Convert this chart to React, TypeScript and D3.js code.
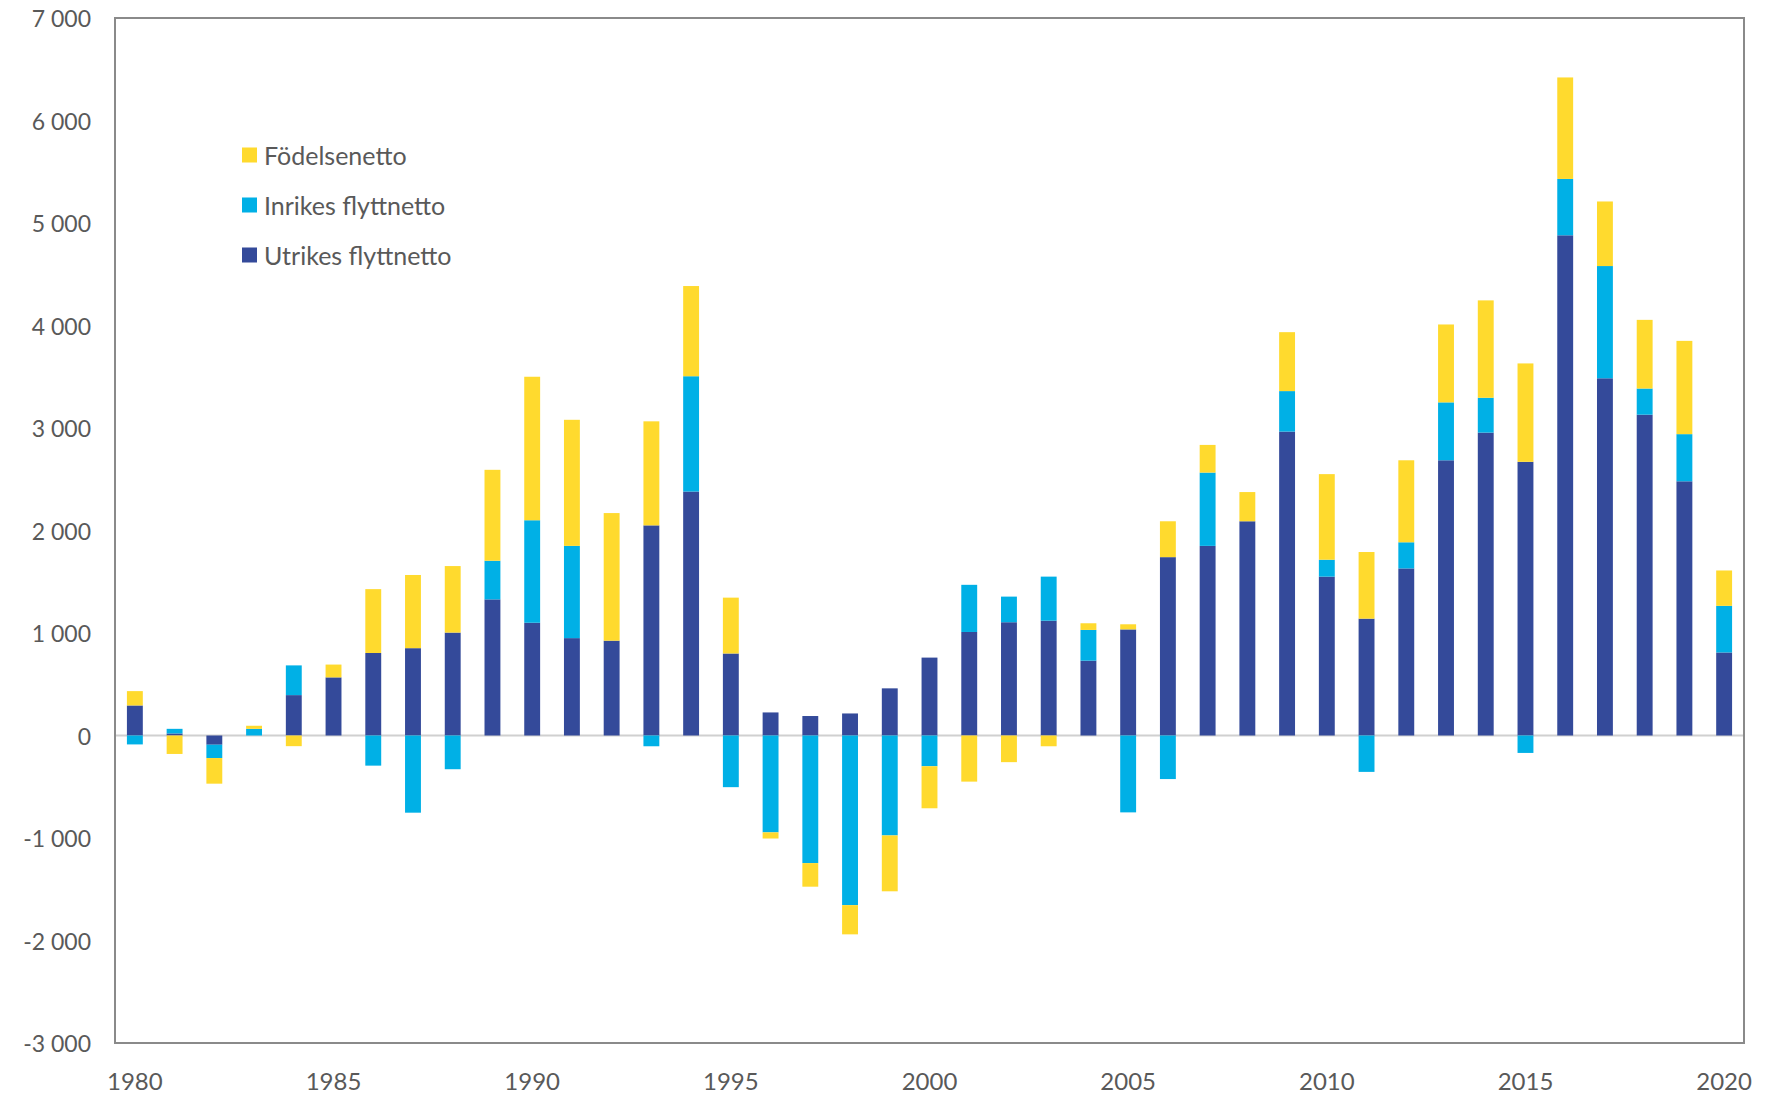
import React from 'react';
import * as d3 from 'd3';

// years on the x axis
const years = d3.range(1980, 2021).map(String);

// series (persons per year)
const utrikes = [
    293, 20, -90, 0, 394, 567, 805, 852, 1004, 1328,
    1100, 950, 925, 2050, 2380, 800, 225, 190, 215, 460,
    760, 1010, 1105, 1120, 730, 1035, 1740, 1850, 2090, 2965,
    1550, 1140, 1630, 2685, 2955, 2670, 4880, 3485, 3130, 2480,
    810
];
const inrikes = [
    -87, 45, -130, 65, 290, 0, -294, -753, -329, 377,
    1000, 900, 0, -105, 1125, -504, -945, -1245, -1655, -975,
    -300, 460, 250, 430, 300, -750, -425, 715, 0, 395,
    165, -355, 255, 565, 340, -170, 550, 1095, 255, 460,
    455
];
const fodelse = [
    140, -180, -250, 30, -104, 125, 623, 714, 649, 887,
    1400, 1230, 1245, 1015, 880, 545, -60, -230, -285, -545,
    -410, -450, -260, -105, 65, 50, 350, 270, 285, 575,
    835, 650, 800, 760, 950, 960, 990, 630, 670, 910,
    345
];

const yTicks = d3.range(-3000, 7001, 1000);
const xLabels = ['1980', '1985', '1990', '1995', '2000', '2005', '2010', '2015', '2020'];

const keys = ['utrikes', 'inrikes', 'fodelse'];
const seriesColors = {
    utrikes: '#344A9A',
    inrikes: '#00B0E6',
    fodelse: '#FFDA2E'
};
const legendItems = [
    { key: 'fodelse', label: 'Födelsenetto' },
    { key: 'inrikes', label: 'Inrikes flyttnetto' },
    { key: 'utrikes', label: 'Utrikes flyttnetto' }
];

const W = 1780, H = 1096;
const plot = { left: 115, right: 1744, top: 18, bottom: 1043 };
const textColor = '#595959';
const font = 'Lato, "Open Sans", sans-serif';

const fmt = d3.formatLocale({
    decimal: ',', thousands: ' ', grouping: [3], currency: ['', ''], minus: '-'
}).format(',');

export default function App() {
    const rows = years.map((y, i) => ({
        year: y, utrikes: utrikes[i], inrikes: inrikes[i], fodelse: fodelse[i]
    }));

    const stacked = d3.stack()
        .keys(keys)
        .offset(d3.stackOffsetDiverging)(rows as any);

    const x = d3.scaleBand()
        .domain(years)
        .range([plot.left, plot.right])
        .paddingInner(0.6)
        .paddingOuter(0.3);

    const y = d3.scaleLinear()
        .domain([-3000, 7000])
        .range([plot.bottom, plot.top]);

    return (
        <div style={{ position: 'absolute', left: 0, top: 0 }}>
            <svg width={W} height={H} style={{ display: 'block', background: '#fff' }}>
                {/* zero line */}
                <line x1={plot.left} x2={plot.right} y1={y(0)} y2={y(0)}
                      stroke="#D0D0D0" strokeWidth={2} />

                {stacked.map(s => (
                    <g key={s.key} fill={seriesColors[s.key]}>
                        {s.map((d: any) => {
                            const y0 = y(d[0]), y1 = y(d[1]);
                            return (
                                <rect key={d.data.year}
                                      x={x(d.data.year)}
                                      width={x.bandwidth()}
                                      y={Math.min(y0, y1)}
                                      height={Math.abs(y0 - y1)} />
                            );
                        })}
                    </g>
                ))}

                {/* frame */}
                <rect x={plot.left} y={plot.top}
                      width={plot.right - plot.left} height={plot.bottom - plot.top}
                      fill="none" stroke="#8A8A8A" strokeWidth={2} />

                {/* y tick labels */}
                {yTicks.map(t => (
                    <text key={t} x={91} y={y(t)} textAnchor="end" dominantBaseline="central"
                          fontFamily={font} fontSize={23} fill={textColor}>
                        {fmt(t)}
                    </text>
                ))}

                {/* x tick labels */}
                {xLabels.map(l => (
                    <text key={l} x={x(l) + x.bandwidth() / 2} y={1080} textAnchor="middle"
                          dominantBaseline="central" fontFamily={font} fontSize={24} fill={textColor}>
                        {l}
                    </text>
                ))}

                {/* legend */}
                {legendItems.map((it, i) => (
                    <g key={it.key} transform={`translate(242, ${155 + i * 50})`}>
                        <rect x={0} y={-7.5} width={15} height={15} fill={seriesColors[it.key]} />
                        <text x={22} y={0} dominantBaseline="central"
                              fontFamily={font} fontSize={25} fill={textColor}>
                            {it.label}
                        </text>
                    </g>
                ))}
            </svg>
        </div>
    );
}
